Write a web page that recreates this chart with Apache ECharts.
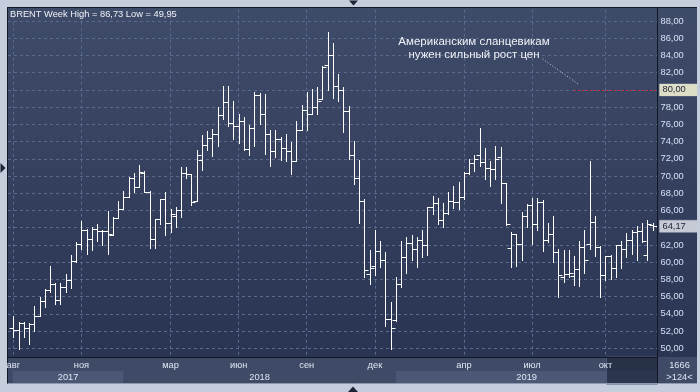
<!DOCTYPE html>
<html><head><meta charset="utf-8">
<script src="https://cdn.jsdelivr.net/npm/echarts@6/dist/echarts.min.js"></script>
<style>html,body{margin:0;padding:0;background:#c3cddb}#c{width:700px;height:392px}</style>
</head><body><div id="c"></div>
<script>
// ---- data ----
const startWeek = '2017-08-07';
const weekCount = 123;
const opens = [52.4,52.1,52.9,52.4,52.8,53.8,55.5,56.8,57.5,55.6,57.1,57.9,60.1,62.1,63.7,62.7,63.8,63.6,63.6,63.2,
65.1,66.2,67.6,69.8,68.7,70.4,68.2,62.7,65.0,67.3,64.6,65.4,66.0,70.4,70.2,67.1,71.9,73.6,74.4,74.9,
77.1,78.6,76.2,75.8,76.4,73.1,75.6,79.4,77.2,74.9,72.9,74.3,73.3,72.9,71.8,75.4,77.7,77.2,78.0,78.9,
82.9,84.0,80.5,80.0,77.6,72.5,69.8,67.1,58.6,59.5,61.3,60.3,53.4,53.3,57.5,60.6,62.2,61.5,62.6,62.05,
66.4,66.9,64.9,65.7,67.1,67.0,67.6,70.4,71.5,72.4,71.6,70.9,70.8,72.2,69.2,61.7,63.3,62.1,65.4,66.6,
64.4,67.0,62.6,63.3,61.2,58.3,58.6,58.4,59.2,61.8,62.1,64.7,61.8,58.5,60.7,59.3,62.05,61.5,62.6,63.5,
63.6,60.8,64.3];
const highs = [53.7,53.05,53.05,52.9,54.9,56.0,56.9,59.5,57.6,57.6,58.6,60.8,62.3,64.8,63.9,64.1,64.4,63.7,65.9,65.2,
67.1,68.3,69.9,70.4,71.3,70.6,68.3,65.0,67.3,68.1,66.2,66.4,71.0,71.1,70.2,73.0,74.8,75.2,75.5,78.0,
80.5,80.5,78.7,77.2,76.8,75.9,79.7,79.6,79.5,75.3,75.3,74.5,74.9,73.9,76.4,78.2,79.7,80.1,80.3,82.8,
86.73,85.5,81.8,80.3,78.1,74.1,71.85,67.3,61.4,63.7,62.5,61.2,55.4,58.3,62.5,62.9,63.1,62.9,63.7,66.4,
67.7,67.5,66.9,68.2,68.8,69.3,70.5,72.0,72.4,75.6,73.3,71.8,73.5,73.4,69.2,63.5,63.3,65.8,66.8,67.5,
67.5,67.2,64.6,65.4,61.5,61.4,61.4,60.7,62.4,63.7,71.8,65.4,61.9,60.7,60.8,62.05,62.4,63.4,63.7,64.25,
64.5,64.9,64.6];
const lows = [51.3,49.95,51.3,50.5,52.0,53.7,54.8,56.5,55.1,55.1,56.5,57.0,60.0,61.5,61.0,61.4,62.4,62.0,61.0,63.1,
65.1,66.2,67.6,68.2,68.7,68.2,61.7,61.7,64.4,63.1,63.5,64.05,65.3,69.8,66.6,67.1,70.7,73.0,72.35,73.5,
76.6,75.8,74.3,73.8,73.0,72.5,73.5,76.0,72.6,71.2,72.2,71.85,71.8,70.2,71.8,75.3,75.4,77.2,77.2,78.9,
80.0,79.1,78.7,75.1,72.0,69.1,64.6,58.3,57.5,58.5,59.4,52.6,49.95,53.2,57.1,58.8,60.2,59.4,60.6,60.8,
65.6,64.4,64.05,65.6,66.3,66.2,67.3,70.2,70.6,71.2,69.7,68.8,69.7,66.9,64.3,59.4,59.5,60.3,64.1,62.1,
63.7,61.3,62.3,60.0,55.9,57.7,58.3,57.3,57.2,58.8,61.5,60.7,56.0,57.9,58.1,58.3,59.3,60.6,61.0,60.3,
62.3,60.3,63.7];
const closes = [52.1,52.9,52.4,52.8,53.8,55.5,56.8,57.5,55.6,57.1,57.9,60.1,62.1,63.7,62.7,63.8,63.6,63.6,63.3,65.1,
66.2,67.6,69.8,68.7,70.5,68.2,62.7,65.0,67.3,64.6,65.6,66.0,70.4,70.2,67.0,72.5,73.6,74.4,74.9,77.1,
78.6,76.2,75.8,76.4,73.1,75.6,79.4,77.2,74.9,72.9,74.3,73.3,72.9,71.8,75.4,77.7,77.2,78.0,78.7,82.7,
84.0,80.5,80.0,77.6,72.5,69.8,67.1,59.1,59.3,61.3,60.3,53.4,52.3,57.5,60.6,62.2,61.5,62.6,62.0,66.4,
66.9,64.9,65.7,67.1,67.0,67.6,70.4,71.5,72.0,71.6,70.9,70.8,72.0,69.2,64.4,63.3,62.1,65.4,66.6,64.4,
67.0,62.6,63.3,61.2,58.5,58.6,58.7,59.2,61.8,60.2,64.7,61.8,58.5,60.7,59.3,62.05,61.5,62.6,63.5,63.6,
62.4,64.4,64.17];
const monthMarks = ['2017-08','2017-11','2018-03','2018-06','2018-09','2018-12','2019-04','2019-07','2019-10'];
const monthLabels = ['авг','ноя','мар','июн','сен','дек','апр','июл','окт'];
const years = ['2017','2018','2019'];
const yMin = 48, yMax = 90, yStep = 2;
const lastPrice = 64.17;
const targetPrice = 80;
const targetFromWeek = 107;
const noteFrom = [101, 83.6], noteTo = [108, 80.6];
const titleText = 'BRENT Week High = 86,73 Low = 49,95';
const noteLines = ['Американским сланцевикам', 'нужен сильный рост цен'];
const cornerTexts = ['1666', '>124<'];

// ---- derived ----
const weeks = [];
const d0 = new Date(startWeek + 'T00:00:00Z');
for (let i = 0; i < weekCount; i++) {
  weeks.push(new Date(d0.getTime() + i * 7 * 864e5).toISOString().slice(0, 10));
}
const monthIdx = monthMarks.map(m => weeks.findIndex(w => w.startsWith(m)));
const yearStart = years.map(y => {
  const k = weeks.findIndex(w => new Date(new Date(w + 'T00:00:00Z').getTime() + 6 * 864e5).toISOString().slice(0, 4) === y);
  return k < 0 ? 0 : k;
});
const ohlc = weeks.map((w, i) => [i, opens[i], highs[i], lows[i], closes[i]]);
const fmt = v => v.toFixed(2).replace('.', ',');

const FONT = 'Liberation Sans';
const TXT = '#dfe6f2';
const PL = 8, PR = 657.5, PT = 7, PB = 357, SB = 384;
const gTop = 3.77, gH = 361.76;
const cLeft = 13.3, cW = 639.3;

const chart = echarts.init(document.getElementById('c'), null, {renderer: 'canvas'});
chart.setOption({
  animation: false,
  backgroundColor: '#c3cddb',
  title: {
    text: titleText, left: 10, top: 9, padding: 0,
    textStyle: {fontFamily: FONT, fontSize: 9.3, fontWeight: 'normal', color: '#eef1f7', lineHeight: 11}
  },
  grid: [
    {left: cLeft, width: cW, top: gTop, height: gH, containLabel: false, outerBoundsMode: 'none'},
    {left: PL, width: PR - PL, top: gTop, height: gH, containLabel: false, outerBoundsMode: 'none'},
    {left: cLeft, width: cW, top: PB - 6, height: 6, containLabel: false, outerBoundsMode: 'none'}
  ],
  xAxis: [
    {type: 'category', gridIndex: 0, data: weeks, boundaryGap: false,
      axisLine: {show: false}, axisTick: {show: false}, axisLabel: {show: false},
      splitLine: {show: true, interval: idx => monthIdx.includes(idx),
        lineStyle: {color: '#5a6a8a', type: [3, 3], width: 1}}},
    {type: 'value', gridIndex: 1, show: false, min: 0, max: 1},
    {type: 'category', gridIndex: 2, data: weeks, boundaryGap: false, position: 'bottom', z: 20,
      axisLine: {show: false}, axisTick: {show: false}, splitLine: {show: false},
      axisLabel: {show: true, interval: idx => monthIdx.includes(idx), margin: 3,
        formatter: (v, idx) => monthLabels[monthIdx.indexOf(idx)] || '',
        fontFamily: FONT, fontSize: 9.3, color: TXT, lineHeight: 11}}
  ],
  yAxis: [
    {type: 'value', gridIndex: 0, min: yMin, max: yMax, interval: yStep, show: false},
    {type: 'value', gridIndex: 1, min: yMin, max: yMax, interval: yStep, position: 'right',
      axisLine: {show: false}, axisTick: {show: false},
      splitLine: {show: true, lineStyle: {color: '#5a6a8a', type: [3, 3], width: 1}},
      axisLabel: {show: true, margin: 3, fontFamily: FONT, fontSize: 9.3, color: '#d4e0f4',
        formatter: v => (v === yMin || v === yMax) ? '' : fmt(v)}},
    {type: 'value', gridIndex: 2, show: false}
  ],
  series: [{
    type: 'custom', xAxisIndex: 0, yAxisIndex: 0, data: ohlc,
    encode: {x: 0, y: [1, 2, 3, 4]},
    renderItem: function (params, api) {
      const i = api.value(0);
      const pO = api.coord([i, api.value(1)]);
      const pH = api.coord([i, api.value(2)]);
      const pL = api.coord([i, api.value(3)]);
      const pC = api.coord([i, api.value(4)]);
      const x = Math.round(pO[0]) + 0.5;
      const yo = Math.round(pO[1]) + 0.5, yc = Math.round(pC[1]) + 0.5;
      const yh = Math.round(pH[1]), yl = Math.round(pL[1]) + 1;
      const t = 4;
      const st = {stroke: '#ffffff', lineWidth: 1};
      return {type: 'group', children: [
        {type: 'line', shape: {x1: x, y1: yh, x2: x, y2: yl}, style: st},
        {type: 'line', shape: {x1: x - t, y1: yo, x2: x, y2: yo}, style: st},
        {type: 'line', shape: {x1: x, y1: yc, x2: x + t, y2: yc}, style: st}
      ]};
    }
  }]
});

// ---- annotation lines & price boxes (end points at the plot's right edge) ----
const yPix = v => chart.convertToPixel({yAxisIndex: 0}, v);
const boxLabel = (v, bg) => ({show: true, position: 'end', distance: 2, formatter: fmt(v),
  fontFamily: FONT, fontSize: 9.3, color: '#1b2236', backgroundColor: bg,
  borderColor: '#6f7890', borderWidth: 0.5, padding: [2, 12, 1, 3]});
chart.setOption({
  series: [{
    markLine: {
      silent: true, symbol: 'none', animation: false,
      data: [
        [{coord: [targetFromWeek, targetPrice], lineStyle: {color: '#c4303f', type: [2, 2], width: 1},
          label: boxLabel(targetPrice, '#deddc6')},
         {x: PR, y: yPix(targetPrice)}],
        [{coord: [weekCount - 1, lastPrice], lineStyle: {color: 'rgba(0,0,0,0)', width: 1},
          label: boxLabel(lastPrice, '#c6cad4')},
         {x: PR, y: yPix(lastPrice)}],
        [{coord: noteFrom, lineStyle: {color: '#cdd3de', type: [1, 2], width: 1}, label: {show: false}},
         {coord: noteTo}]
      ]
    }
  }]
});

// ---- decorations computed from the axis ----
const px = i => chart.convertToPixel({xAxisIndex: 0}, i);
const frame = '#c3cddb';
const g = [];
g.push({type: 'rect', z: -10, silent: true, shape: {x: PL, y: PT, width: 697 - PL, height: PB - PT},
  style: {fill: {type: 'linear', x: 0, y: 0, x2: 0, y2: 1,
    colorStops: [{offset: 0, color: '#3f4c69'}, {offset: 1, color: '#2a3453'}]}}});
g.push({type: 'rect', z: 10, silent: true, shape: {x: 0, y: 0, width: 700, height: PT}, style: {fill: frame}});
g.push({type: 'rect', z: 10, silent: true, shape: {x: 0, y: 0, width: PL, height: 392}, style: {fill: frame}});
g.push({type: 'rect', z: 10, silent: true, shape: {x: 0, y: SB, width: 700, height: 392 - SB}, style: {fill: frame}});
g.push({type: 'rect', z: 10, silent: true, shape: {x: 697, y: 0, width: 3, height: 392}, style: {fill: frame}});
g.push({type: 'rect', z: 10, silent: true, shape: {x: PL, y: PB, width: 697 - PL, height: SB - PB}, style: {fill: '#3e4a66'}});
const yEdges = yearStart.map(k => px(k)).concat([PR]);
years.forEach((y, k) => {
  const x1 = k === 0 ? yEdges[0] - 0.5 : yEdges[k], x2 = yEdges[k + 1];
  if (k % 2 === 0) {
    g.push({type: 'rect', z: 11, silent: true, shape: {x: x1, y: 371, width: x2 - x1, height: 12.5}, style: {fill: '#4a5775'}});
  }
  g.push({type: 'text', z: 20, silent: true, x: (x1 + x2) / 2, y: 377.5,
    style: {text: y, fontFamily: FONT, fontSize: 9.3, fill: TXT, align: 'center', verticalAlign: 'middle'}});
});
const ox = px(monthIdx[monthIdx.length - 1]) + 1;
g.push({type: 'rect', z: 12, silent: true, shape: {x: ox, y: PB, width: PR - ox, height: SB - PB},
  style: {fill: 'rgba(30,38,60,0.7)', stroke: '#4d5a78', lineWidth: 1}});
const ln = (x1, y1, x2, y2, c) => g.push({type: 'line', z: 15, silent: true,
  shape: {x1, y1, x2, y2}, style: {stroke: c || '#121724', lineWidth: 1}});
ln(PL - 0.5, PT + 0.5, 697, PT + 0.5);
ln(PL - 0.5, PT, PL - 0.5, SB);
ln(PL, PB + 0.5, PR, PB + 0.5);
ln(PR, PT, PR, SB);
ln(PL - 0.5, SB - 0.5, 697, SB - 0.5, '#8d99ad');
g.push({type: 'text', z: 20, silent: true, x: 679.5, y: 365.5,
  style: {text: cornerTexts[0], fontFamily: FONT, fontSize: 9.3, fill: TXT, align: 'center', verticalAlign: 'middle'}});
g.push({type: 'text', z: 20, silent: true, x: 679.5, y: 377.5,
  style: {text: cornerTexts[1], fontFamily: FONT, fontSize: 9.3, fill: TXT, align: 'center', verticalAlign: 'middle'}});
g.push({type: 'text', z: 20, silent: true, x: 474, y: 48.5,
  style: {text: noteLines.join('\n'), fontFamily: FONT, fontSize: 11.5, lineHeight: 12.8,
    fill: '#f0f3f8', align: 'center', verticalAlign: 'middle'}});
g.push({type: 'polygon', z: 20, silent: true, shape: {points: [[349, 0.5], [358, 0.5], [353.5, 5.5]]}, style: {fill: '#1c2436'}});
g.push({type: 'polygon', z: 20, silent: true, shape: {points: [[348, 392], [358, 392], [353, 386.5]]}, style: {fill: '#1c2436'}});
g.push({type: 'polygon', z: 20, silent: true, shape: {points: [[0.5, 163], [0.5, 173], [5.5, 168]]}, style: {fill: '#1c2436'}});
chart.setOption({graphic: g});
</script>
</body></html>
